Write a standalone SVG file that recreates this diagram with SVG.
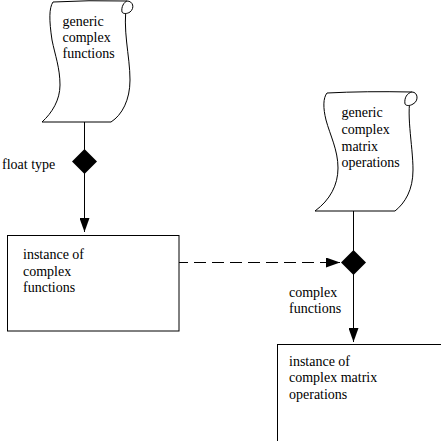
<svg xmlns="http://www.w3.org/2000/svg" width="441" height="441" viewBox="0 0 441 441">
<style>
text{font-family:"Liberation Serif","Times New Roman",serif;font-size:14px;fill:#000}
.shape{fill:#fff;stroke:#000;stroke-width:1}
.line{fill:none;stroke:#000;stroke-width:1}
.dash{stroke-dasharray:12 6}
.dia{fill:#000;stroke:none}
</style>
<defs>
<marker id="arrow" markerUnits="userSpaceOnUse" markerWidth="14" markerHeight="10" refX="14" refY="5" orient="auto">
<path d="M0,0 L14,5 L0,10 z" fill="#000"/>
</marker>
</defs>
<rect width="441" height="441" fill="#fff"/>
<g id="connectors">
<line class="line" x1="84.5" y1="122" x2="84.5" y2="232" marker-end="url(#arrow)"/>
<path class="dia" d="M84.5,149 L97,161.5 L84.5,174 L72,161.5 z"/>
<text x="2" y="169">float type</text>
<line class="line" x1="353.5" y1="211" x2="353.5" y2="342" marker-end="url(#arrow)"/>
<line class="line dash" x1="176" y1="262.5" x2="340" y2="262.5" marker-end="url(#arrow)"/>
<path class="dia" d="M353.5,250 L366,262.5 L353.5,275 L341,262.5 z"/>
<text x="289" y="297">complex</text>
<text x="289" y="313">functions</text>
</g>
<g id="generic-complex-functions">
<path class="shape" d="M53,2 Q88,0 127,1 C122,30 130,55 130,80 C130,100 122,115 111,122 L42,122 C52,113 60,100 60,85 C60,68 55,55 52,40 C49,20 49,8 53,2 z"/>
<path class="shape" d="M127,1 C133,1 135,8 130,12 C127,14 123,14 122,12 C121,7 124,2 127,1 z"/>
<text x="62.5" y="25.5">generic</text>
<text x="62.5" y="41.5">complex</text>
<text x="62.5" y="57.5">functions</text>
</g>
<g id="generic-complex-matrix-operations">
<path class="shape" d="M327,93 Q365,91 412,92 C405,110 413,145 413,170 C413,190 405,203 395,211 L315,211 C330,200 338,185 338,168 C338,150 330,135 326,120 C323,108 323,98 327,93 z"/>
<path class="shape" d="M412,92 C418,92 419,101 413,104 C410,106 406,106 405,104 C404,98 407,93 412,92 z"/>
<text x="341.5" y="117">generic</text>
<text x="341.5" y="134">complex</text>
<text x="341.5" y="150.5">matrix</text>
<text x="341.5" y="167">operations</text>
</g>
<g id="instance-complex-functions">
<rect class="shape" x="7.5" y="235.5" width="171.5" height="95.5"/>
<text x="23" y="259">instance of</text>
<text x="23" y="275.5">complex</text>
<text x="23" y="292">functions</text>
</g>
<g id="instance-complex-matrix-operations">
<rect class="shape" x="277.5" y="344.5" width="200" height="200"/>
<text x="289" y="365.5">instance of</text>
<text x="289" y="382">complex matrix</text>
<text x="289" y="398.5">operations</text>
</g>
</svg>
